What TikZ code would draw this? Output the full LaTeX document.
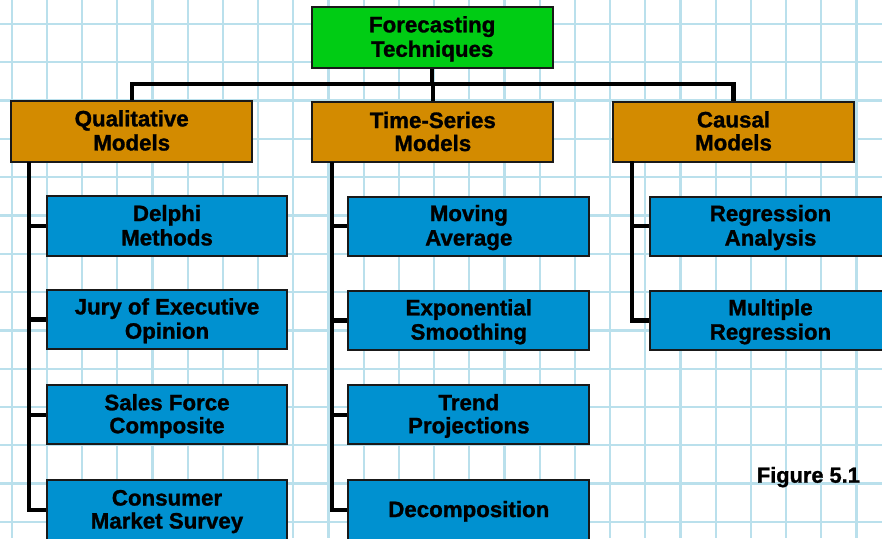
\documentclass[tikz,border=0pt]{standalone}
\usepackage{fontspec}
\setmainfont{Liberation Sans}[BoldFeatures={FakeBold=1.2}]
\definecolor{gridblue}{RGB}{186,224,236}
\definecolor{topgreen}{RGB}{0,204,20}
\definecolor{catorange}{RGB}{211,139,0}
\definecolor{itemblue}{RGB}{0,145,208}
% strut that centres two-line labels the way the boxes want them
\newcommand{\ls}{\rule[-4.3pt]{0pt}{23pt}}
\newcommand{\twolines}[2]{\ls#1\\\ls#2}
\tikzset{
  gridline/.style={gridblue, line width=2.3pt},
  box/.style={draw=black!90, line width=2pt, inner sep=0pt, align=center,
    font=\bfseries\fontsize{22.3}{23}\selectfont},
  topbox/.style={box, fill=topgreen, minimum width=241pt, minimum height=60.4pt},
  catbox/.style={box, fill=catorange, minimum width=241.3pt, minimum height=61pt},
  itembox/.style={box, fill=itemblue, minimum width=240.8pt, minimum height=59.5pt},
  conn/.style={line width=4.3pt, line join=miter},
  caption/.style={inner sep=0pt, font=\bfseries\fontsize{21.8}{24}\selectfont}
}
\begin{document}
\begin{tikzpicture}[x=1pt, y=-1pt]
  \useasboundingbox (0,0) rectangle (882,538);
  \clip (0,0) rectangle (882,538);
  \fill[white] (0,0) rectangle (882,538);

  % squared paper
  \foreach \k in {0,...,24}
    \draw[gridline] ({11.7+35.2*\k},0) -- ({11.7+35.2*\k},538);
  \foreach \k in {0,...,13}
    \draw[gridline] (0,{24+38.3*\k}) -- (882,{24+38.3*\k});

  % root
  \node[topbox] (root) at (432.2,37.5) {\twolines{Forecasting}{Techniques}};

  % model families
  \node[catbox] (qual) at (131.7,131.2) {\twolines{Qualitative}{Models}};
  \node[catbox, minimum height=60pt] (time) at (432.8,132.3) {\twolines{Time-Series}{Models}};
  \node[catbox, minimum height=60pt] (caus) at (733.5,131.7) {\twolines{Causal}{Models}};

  % qualitative methods
  \node[itembox] (delphi) at (167,226) {\twolines{Delphi}{Methods}};
  \node[itembox] (jury) at (167,319.5) {\twolines{Jury of Executive}{Opinion}};
  \node[itembox] (sales) at (167,414.7) {\twolines{Sales Force}{Composite}};
  \node[itembox, minimum height=60pt] (consumer) at (167,510) {\twolines{Consumer}{Market Survey}};

  % time-series methods
  \node[itembox] (moving) at (468.8,226.3) {\twolines{Moving}{Average}};
  \node[itembox] (expo) at (468.8,320.5) {\twolines{Exponential}{Smoothing}};
  \node[itembox] (trend) at (468.8,414.7) {\twolines{Trend}{Projections}};
  \node[itembox, minimum height=61pt] (decomp) at (468.8,510) {\ls Decomposition};

  % causal methods
  \node[itembox] (regr) at (770.5,226.3) {\twolines{Regression}{Analysis}};
  \node[itembox] (multi) at (770.5,320.5) {\twolines{Multiple}{Regression}};

  % bus from the root to the three families
  \coordinate (bus) at (432.2,84.3);
  \draw[conn] (root.south) -- (root.south |- bus);
  \draw[conn] (qual.north) -- (qual.north |- bus) -| (caus.north);
  \draw[conn] (time.north) -- (time.north |- bus);

  % spines down each column
  \coordinate (qspine) at (29,162);
  \coordinate (tspine) at (331.7,162);
  \coordinate (cspine) at (632.3,161);
  \draw[conn] (qspine) |- (consumer.west);
  \foreach \n in {delphi,jury,sales}
    \draw[conn] (\n.west) -- (\n.west -| qspine);
  \draw[conn] (tspine) |- (decomp.west);
  \foreach \n in {moving,expo,trend}
    \draw[conn] (\n.west) -- (\n.west -| tspine);
  \draw[conn] (cspine) |- (multi.west);
  \draw[conn] (regr.west) -- (regr.west -| cspine);

  \node[caption, anchor=base west] (fig) at (756.7,482.7) {Figure 5.1};
\end{tikzpicture}
\end{document}
